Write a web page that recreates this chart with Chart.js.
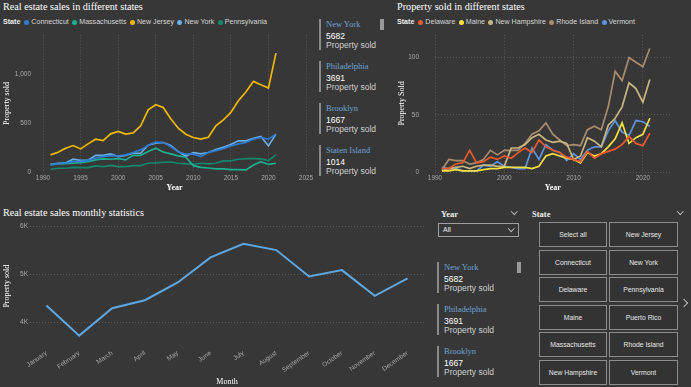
<!DOCTYPE html>
<html><head><meta charset="utf-8">
<script src="https://cdn.jsdelivr.net/npm/chart.js@4.4.0/dist/chart.umd.min.js"></script>
<style>
html,body{margin:0;padding:0;background:#373737;width:691px;height:387px;overflow:hidden;}
body{position:relative;font-family:"Liberation Sans",Arial,sans-serif;color:#fff;}
canvas{position:absolute;}
.title{position:absolute;font-family:"Liberation Serif",serif;font-size:10.2px;color:#fff;white-space:nowrap;line-height:12px;}
.legend{position:absolute;display:flex;align-items:center;font-size:7.1px;color:#d6d6d6;white-space:nowrap;height:10px;}
.legend b{color:#eee;margin-right:4px;}
.legend .it{display:flex;align-items:center;margin-right:3.4px;}
.legend .dot{width:5px;height:5px;border-radius:50%;margin-right:2px;}
.cards{position:absolute;overflow:hidden;}
.card{position:absolute;left:0;width:64px;height:34px;}
.card .bar{position:absolute;left:0;top:0;width:1.5px;height:31px;background:#8a8a8a;}
.card div.tx{position:absolute;left:7px;white-space:nowrap;font-size:8.5px;line-height:10px;}
.card .t{top:0;font-family:"Liberation Serif",serif;color:#6ea3d6;}
.card .v{top:12px;color:#fff;}
.card .l{top:21px;color:#cfcfcf;}
.sb{position:absolute;width:4px;background:#9a9a9a;}
.hdr{position:absolute;font-family:"Liberation Serif",serif;font-weight:bold;font-size:8.5px;color:#eee;line-height:10px;}
.chev{position:absolute;width:3.5px;height:3.5px;border-right:1px solid #bbb;border-bottom:1px solid #bbb;transform:rotate(45deg);}
.dd{position:absolute;left:438px;top:223px;width:79px;height:12px;border:1px solid #a0a0a0;font-size:7px;line-height:12px;color:#eee;box-sizing:content-box;}
.btn{position:absolute;box-sizing:border-box;border:1px solid #8c8c8c;background:#333;color:#e8e8e8;font-size:6.8px;display:flex;align-items:center;justify-content:center;white-space:nowrap;}
</style></head>
<body>
<div class="title" style="left:3px;top:1px;">Real estate sales in different states</div>
<div class="legend" id="lg1" style="left:3px;top:17px;"></div>
<canvas id="c1" width="318" height="170" style="left:0;top:30px;"></canvas>

<div class="cards" id="cards1" style="left:318px;top:0;width:70px;height:178px;"></div>
<div class="sb" style="left:380px;top:19px;height:11px;"></div>

<div class="title" style="left:397px;top:1px;">Property sold in different states</div>
<div class="legend" id="lg2" style="left:397px;top:17px;"></div>
<canvas id="c2" width="299" height="170" style="left:392px;top:30px;"></canvas>

<div class="title" style="left:3px;top:207px;">Real estate sales monthly statistics</div>
<canvas id="c3" width="430" height="169" style="left:0;top:218px;"></canvas>

<div class="hdr" style="left:441px;top:209px;">Year</div>
<div class="chev" style="left:512px;top:209px;"></div>
<div class="dd"><span style="margin-left:4px;">All</span></div>
<div class="chev" style="left:509px;top:226px;"></div>
<div class="hdr" style="left:532px;top:209px;">State</div>
<div class="chev" style="left:678px;top:209px;"></div>
<div id="btns"></div>
<div style="position:absolute;left:681px;top:300px;width:5px;height:5px;border-right:1px solid #bbb;border-top:1px solid #bbb;transform:rotate(45deg);"></div>

<div class="cards" id="cards2" style="left:436px;top:255px;width:80px;height:132px;"></div>
<div class="sb" style="left:517px;top:262px;height:11px;"></div>

<script>
// ---------- data ----------
const years = [1991,1992,1993,1994,1995,1996,1997,1998,1999,2000,2001,2002,2003,2004,2005,2006,2007,2008,2009,2010,2011,2012,2013,2014,2015,2016,2017,2018,2019,2020,2021];

const states1 = ['Connecticut','Massachusetts','New Jersey','New York','Pennsylvania'];
const colors1 = ['#2f7bd0','#1bb08f','#f5b800','#68aee8','#13876d'];
const connecticut  = [75,85,92,109,112,119,146,160,170,167,177,201,228,275,306,303,262,207,184,184,160,201,221,241,269,289,303,337,354,337,388];
const massachusetts= [78,85,88,92,99,109,126,136,133,139,126,173,173,211,245,207,187,167,153,68,51,44,34,34,27,27,24,75,108,80,92];
const newJersey    = [177,204,245,272,238,289,337,323,391,415,388,401,473,636,687,660,544,449,388,354,337,357,473,534,609,728,816,925,891,857,1212];
const newYork      = [82,92,95,133,122,122,173,173,187,160,173,194,194,275,296,303,272,211,163,201,187,201,231,255,282,320,320,347,364,269,388];
const pennsylvania = [31,41,41,51,48,48,65,58,71,58,58,68,68,92,95,102,105,92,85,82,92,85,92,116,116,133,139,139,136,119,178];
const xTicks1 = [1990,1995,2000,2005,2010,2015,2020,2025];
const yTicks1 = [0,500,1000];

const states2 = ['Delaware','Maine','New Hampshire','Rhode Island','Vermont'];
const colors2 = ['#ee5a2b','#f7e23f','#cbb680','#a98c6e','#5b93e0'];
const delaware     = [3,3,7,8,19,8,9,13,11,14,12,17,21,17,28,22,19,17,13,11,9,18,12,16,18,20,24,31,25,23,34];
const maine        = [1,1,2,1,1,1,2,3,3,4,4,4,4,3,5,14,16,14,12,11,8,17,14,16,22,29,43,25,30,33,47];
const newHampshire = [1,3,4,5,3,5,6,6,5,5,21,21,24,30,33,28,26,27,25,11,14,30,27,22,41,47,57,78,73,61,81];
const rhodeIsland  = [2,11,10,10,7,8,11,19,15,19,19,19,25,33,36,43,33,28,23,24,23,37,40,37,57,88,80,100,96,92,108];
const vermont      = [4,3,3,1,1,1,6,5,9,5,4,3,3,21,11,24,19,17,10,16,11,19,22,22,36,45,35,32,45,44,40];
const xTicks2 = [1990,2000,2010,2020];
const yTicks2 = [0,50,100];

const months = ['January','February','March','April','May','June','July','August','September','October','November','December'];
const monthlySold = [4347,3722,4292,4458,4826,5347,5632,5500,4951,5083,4549,4910];
const yTicks3 = [4000,5000,6000];

const cardCities = ['New York','Philadelphia','Brooklyn','Staten Island'];
const cardValues = [5682,3691,1667,1014];
const cardLabel = 'Property sold';

const stateButtons = ['Select all','New Jersey','Connecticut','New York','Delaware','Pennsylvania','Maine','Puerto Rico','Massachusetts','Rhode Island','New Hampshire','Vermont'];

// ---------- html parts ----------
function legend(id, names, cols){
  const el = document.getElementById(id);
  let h = '<b>State</b>';
  names.forEach((n,i)=>{ h += '<span class="it"><span class="dot" style="background:'+cols[i]+'"></span>'+n+'</span>'; });
  el.innerHTML = h;
}
legend('lg1', states1, colors1);
legend('lg2', states2, colors2);

function cards(id, top0, n){
  const el = document.getElementById(id);
  let h='';
  for(let i=0;i<n;i++){
    h += '<div class="card" style="left:1px;top:'+(top0+i*42)+'px"><div class="bar"></div>'+
         '<div class="tx t">'+cardCities[i]+'</div><div class="tx v">'+cardValues[i]+'</div><div class="tx l">'+cardLabel+'</div></div>';
  }
  el.innerHTML = h;
}
cards('cards1', 19, 4);
cards('cards2', 7, 3);

(function(){
  const el = document.getElementById('btns');
  let h='';
  stateButtons.forEach((s,i)=>{
    const col = i%2, row = Math.floor(i/2);
    const left = col===0 ? 539 : 609;
    const w = col===0 ? 68 : 69;
    const top = 222 + row*27.6;
    h += '<div class="btn" style="left:'+left+'px;top:'+top+'px;width:'+w+'px;height:25px;">'+s+'</div>';
  });
  el.innerHTML = h;
})();

// ---------- charts ----------
const tickFont = {family:'Liberation Sans', size:6.5};
const tickColor = '#a8a8a8';
const gridColor = 'rgba(255,255,255,0.17)';
const titleFont = {family:'Liberation Serif', size:8};
const titleFontB = {family:'Liberation Serif', size:8, weight:'bold'};
function pts(arr){ return arr.map((v,i)=>({x:years[i], y:v})); }
function setTicks(arr){ return s => { s.ticks = arr.map(v=>({value:v})); }; }
function fixY(w){ return s => { s.width = w; s.paddingTop = 0; s.paddingBottom = 0; }; }
const base = {responsive:false, animation:false, devicePixelRatio:1, events:[],
  plugins:{legend:{display:false}, tooltip:{enabled:false}}};

new Chart(document.getElementById('c1'), {
  type:'line',
  data:{datasets:[connecticut,massachusetts,newJersey,newYork,pennsylvania].map((d,i)=>({
    label:states1[i], data:pts(d), borderColor:colors1[i], borderWidth:1.7, pointRadius:0, tension:0}))},
  options:Object.assign({}, base, {
    layout:{padding:{left:0,right:12,top:4.7,bottom:0}},
    scales:{
      x:{type:'linear', min:1990, max:2025, bounds:'data',
        ticks:{color:tickColor, font:tickFont, padding:2, maxRotation:0, autoSkip:false, callback:v=>String(v)},
        grid:{color:gridColor, drawTicks:false}, border:{display:false, dash:[1,2]},
        title:{display:true, text:'Year', color:'#fff', font:titleFontB, padding:{top:0,bottom:7.2}},
        afterBuildTicks:setTicks(xTicks1),
        afterFit:s=>{s.height=27.7;}},
      y:{type:'linear', min:0, max:1400, bounds:'data',
        ticks:{color:tickColor, font:tickFont, padding:12, autoSkip:false, callback:v=>v.toLocaleString('en-US')},
        grid:{display:false, drawTicks:false}, border:{display:false},
        title:{display:true, text:'Property sold', color:'#fff', font:titleFont, padding:{top:1.7,bottom:0}},
        afterBuildTicks:setTicks(yTicks1),
        afterFit:fixY(43)}
    }
  })
});

new Chart(document.getElementById('c2'), {
  type:'line',
  data:{datasets:[delaware,maine,newHampshire,rhodeIsland,vermont].map((d,i)=>({
    label:states2[i], data:pts(d), borderColor:colors2[i], borderWidth:1.7, pointRadius:0, tension:0}))},
  options:Object.assign({}, base, {
    layout:{padding:{left:0,right:20.4,top:4.8,bottom:0}},
    scales:{
      x:{type:'linear', min:1990, max:2024, bounds:'data',
        ticks:{color:tickColor, font:tickFont, padding:2, maxRotation:0, autoSkip:false, callback:v=>String(v)},
        grid:{color:gridColor, drawTicks:false}, border:{display:false, dash:[1,2]},
        title:{display:true, text:'Year', color:'#fff', font:titleFontB, padding:{top:0,bottom:7.2}},
        afterBuildTicks:setTicks(xTicks2),
        afterFit:s=>{s.height=28;}},
      y:{type:'linear', min:0, max:120, bounds:'data',
        ticks:{color:tickColor, font:tickFont, padding:16, autoSkip:false},
        grid:{color:gridColor, drawTicks:false}, border:{display:false, dash:[1,2]},
        title:{display:true, text:'Property Sold', color:'#fff', font:titleFont, padding:{top:4.9,bottom:0}},
        afterBuildTicks:setTicks(yTicks2),
        afterFit:fixY(43)}
    }
  })
});

new Chart(document.getElementById('c3'), {
  type:'line',
  data:{labels:months, datasets:[{label:'Property sold', data:monthlySold, borderColor:'#5ea7e2', borderWidth:2, pointRadius:0, tension:0}]},
  options:Object.assign({}, base, {
    layout:{padding:{left:0,right:6,top:8,bottom:0}},
    scales:{
      x:{type:'category', offset:true,
        ticks:{color:tickColor, font:tickFont, padding:3, minRotation:35, maxRotation:35, autoSkip:false},
        grid:{display:false, drawTicks:false}, border:{display:false},
        title:{display:true, text:'Month', color:'#fff', font:titleFont, padding:{top:0,bottom:0.7}},
        afterFit:s=>{s.height=40.7;}},
      y:{type:'linear', min:3500, max:6000, bounds:'data',
        ticks:{color:tickColor, font:tickFont, padding:2, autoSkip:false, callback:v=>(v/1000)+'K'},
        grid:{color:gridColor, drawTicks:false}, border:{display:false, dash:[1,2]},
        title:{display:true, text:'Property sold', color:'#fff', font:titleFont, padding:{top:1.9,bottom:0}},
        afterBuildTicks:setTicks(yTicks3),
        afterFit:fixY(30)}
    }
  })
});
</script>
</body></html>
